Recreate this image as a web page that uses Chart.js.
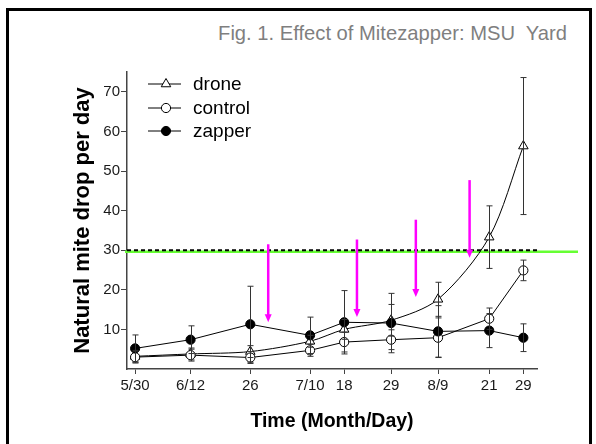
<!DOCTYPE html>
<html>
<head>
<meta charset="utf-8">
<script src="https://cdn.jsdelivr.net/npm/chart.js@4.4.1/dist/chart.umd.min.js"></script>
<style>
  body { margin: 0; background: #fff; }
  #wrap { position: relative; width: 596px; height: 444px; overflow: hidden; }
  #frame { position: absolute; left: 6px; top: 8px; width: 586px; height: 500px; box-sizing: border-box; border: 3px solid #000; }
  #title { position: absolute; right: 29px; top: 21px; font: 20.2px Arial, "Liberation Sans", sans-serif; line-height: 24px; color: #7f7f7f; white-space: pre; }
  canvas { position: absolute; left: 0; top: 0; }
</style>
</head>
<body>
<div id="wrap">
  <div id="frame"></div>
  <div id="title">Fig. 1. Effect of Mitezapper: MSU  Yard</div>
  <canvas id="c" width="596" height="444"></canvas>
</div>
<script>
// days since 5/30
const days = [0, 13, 27, 41, 49, 60, 71, 83, 91]
const xTickLabels = ['5/30', '6/12', '26', '7/10', '18', '29', '8/9', '21', '29']
const yTickValues = [10, 20, 30, 40, 50, 60, 70]

const drone = [3.2, 3.8, 4.4, 7.0, 10.0, 12.3, 17.6, 33.3, 56.3]
const droneErr = [1.5, 1.5, 1.5, 1.5, 2.5, 4.0, 4.3, 7.9, 17.3]
const control = [3.0, 3.5, 2.9, 4.7, 6.8, 7.4, 7.9, 12.7, 24.9]
const controlErr = [1.5, 1.5, 1.5, 1.5, 2.5, 2.5, 5.0, 2.7, 2.6]
const zapper = [5.2, 7.4, 11.3, 8.5, 11.8, 11.6, 9.5, 9.7, 7.9]
const zapperErr = [3.4, 3.5, 9.6, 4.6, 8.0, 7.5, 6.5, 4.3, 3.5]

const threshold = 30
const greenLevel = 29.6

// magenta arrows (treatment dates)
const arrowDays = [31.2, 52.0, 65.8, 78.4]
const arrowFrom = [31.5, 32.7, 37.7, 47.7]
const arrowTo = [11.8, 13.1, 18.2, 28.1]

const toPoints = (vals) => days.map((d, i) => ({x: d, y: vals[i]}))
const errors = [droneErr, controlErr, zapperErr]
const means = [drone, control, zapper]

const extras = {
    id: 'extras',
    beforeDatasetsDraw(chart) {
        const {ctx, chartArea} = chart
        const ys = chart.scales.y
        ctx.save()
        // green level line, runs past the plot to the right
        let gy = ys.getPixelForValue(greenLevel)
        ctx.strokeStyle = '#66ff33'
        ctx.lineWidth = 2.5
        ctx.beginPath()
        ctx.moveTo(chartArea.left - 2, gy)
        ctx.lineTo(578, gy)
        ctx.stroke()
        // dashed threshold
        let ty = ys.getPixelForValue(threshold)
        ctx.strokeStyle = '#000'
        ctx.lineWidth = 2
        ctx.setLineDash([4, 3])
        ctx.beginPath()
        ctx.moveTo(chartArea.left, ty)
        ctx.lineTo(chartArea.right + 2, ty)
        ctx.stroke()
        ctx.restore()
    },
    afterDatasetsDraw(chart) {
        const {ctx} = chart
        const xs = chart.scales.x, ys = chart.scales.y
        ctx.save()
        // error bars
        ctx.strokeStyle = '#333'
        ctx.lineWidth = 1
        means.forEach((m, s) => {
            m.forEach((v, i) => {
                const x = Math.round(xs.getPixelForValue(days[i])) + 0.5
                const y1 = ys.getPixelForValue(v + errors[s][i])
                const y2 = ys.getPixelForValue(v - errors[s][i])
                ctx.beginPath()
                ctx.moveTo(x, y1); ctx.lineTo(x, y2)
                ctx.moveTo(x - 3, y1); ctx.lineTo(x + 3, y1)
                ctx.moveTo(x - 3, y2); ctx.lineTo(x + 3, y2)
                ctx.stroke()
            })
        })
        // arrows
        ctx.strokeStyle = '#ff00ff'
        ctx.fillStyle = '#ff00ff'
        ctx.lineWidth = 2.5
        arrowDays.forEach((d, i) => {
            const x = xs.getPixelForValue(d)
            const yTop = ys.getPixelForValue(arrowFrom[i])
            const yTip = ys.getPixelForValue(arrowTo[i])
            ctx.beginPath()
            ctx.moveTo(x, yTop); ctx.lineTo(x, yTip - 6)
            ctx.stroke()
            ctx.beginPath()
            ctx.moveTo(x - 3.5, yTip - 8)
            ctx.lineTo(x + 3.5, yTip - 8)
            ctx.lineTo(x, yTip)
            ctx.closePath()
            ctx.fill()
        })
        // legend
        const rows = [84, 108, 131]
        chart.data.datasets.forEach((ds, i) => {
            const y = rows[i]
            ctx.strokeStyle = '#000'
            ctx.lineWidth = 1
            ctx.beginPath()
            ctx.moveTo(148, y); ctx.lineTo(181, y)
            ctx.stroke()
            ctx.fillStyle = ds.pointBackgroundColor
            ctx.strokeStyle = '#000'
            Chart.helpers.drawPoint(ctx, {pointStyle: ds.pointStyle, radius: ds.pointRadius, borderWidth: 1, rotation: 0}, 166, y)
            ctx.fillStyle = '#000'
            ctx.font = '19px Arial, "Liberation Sans", sans-serif'
            ctx.textBaseline = 'middle'
            ctx.fillText(ds.label, 193, y + 1)
        })
        ctx.restore()
    }
}

const tickFont = {family: 'Arial, "Liberation Sans", sans-serif', size: 15}

new Chart(document.getElementById('c'), {
    type: 'line',
    data: {
        datasets: [
            {label: 'drone', data: toPoints(drone), borderColor: '#000', borderWidth: 1, tension: 0.3, pointStyle: 'triangle', pointRadius: 5.5, pointBackgroundColor: '#fff', pointBorderColor: '#000', pointBorderWidth: 1, order: 2},
            {label: 'control', data: toPoints(control), borderColor: '#000', borderWidth: 1, pointStyle: 'circle', pointRadius: 4.6, pointBackgroundColor: '#fff', pointBorderColor: '#000', pointBorderWidth: 1, order: 1},
            {label: 'zapper', data: toPoints(zapper), borderColor: '#000', borderWidth: 1, pointStyle: 'circle', pointRadius: 4.6, pointBackgroundColor: '#000', pointBorderColor: '#000', pointBorderWidth: 1, order: 0}
        ]
    },
    options: {
        responsive: false,
        animation: false,
        layout: {padding: {top: 72, right: 59, left: 66, bottom: 11}},
        plugins: {legend: {display: false}, tooltip: {enabled: false}},
        scales: {
            x: {
                type: 'linear', min: -1.9, max: 94.2,
                afterBuildTicks: (scale) => { scale.ticks = days.map(v => ({value: v})) },
                afterFit: (scale) => { scale.height = 64 },
                ticks: {autoSkip: false, maxRotation: 0, padding: 3, color: '#1a1a1a', font: tickFont,
                    callback: (v, i) => xTickLabels[i]},
                grid: {drawOnChartArea: false, drawTicks: true, tickLength: 5, color: '#444'},
                border: {display: true, color: '#444', width: 1.5},
                title: {display: true, text: 'Time (Month/Day)', color: '#000', padding: {top: 4, bottom: 0},
                    font: {family: 'Arial, "Liberation Sans", sans-serif', size: 19.5, weight: 'bold'}}
            },
            y: {
                type: 'linear', min: 0, max: 75,
                afterBuildTicks: (scale) => { scale.ticks = yTickValues.map(v => ({value: v})) },
                afterFit: (scale) => { scale.width = 61 },
                ticks: {padding: 1, color: '#1a1a1a', font: tickFont},
                grid: {drawOnChartArea: false, drawTicks: true, tickLength: 6, color: '#444'},
                border: {display: true, color: '#444', width: 1.5},
                title: {display: true, text: 'Natural mite drop per day', color: '#000', padding: {top: 4, bottom: 0},
                    font: {family: 'Arial, "Liberation Sans", sans-serif', size: 22, weight: 'bold'}}
            }
        }
    },
    plugins: [extras]
})
</script>
</body>
</html>
